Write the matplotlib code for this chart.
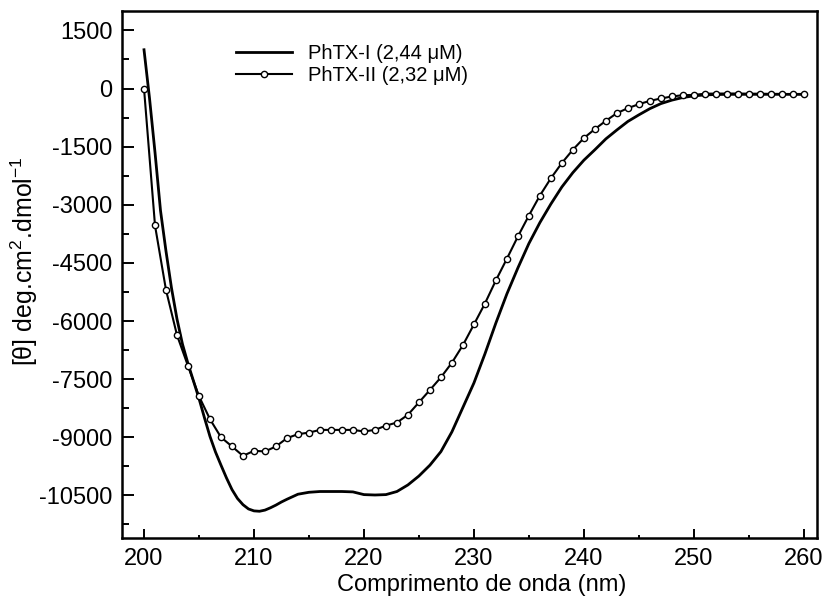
import matplotlib
matplotlib.use("Agg")
import matplotlib.pyplot as plt
from matplotlib.ticker import MultipleLocator

plt.rcParams['font.family'] = ['Liberation Sans', 'DejaVu Sans']
plt.rcParams['mathtext.default'] = 'regular'
plt.rcParams['axes.unicode_minus'] = False

# PhTX-I (2,44 uM) - solid line, finer steps where the curve bends
wl1 = [200, 200.5, 201, 201.5, 202, 202.5, 203, 203.5, 204, 204.5,
       205, 205.5, 206, 206.5, 207, 207.5, 208, 208.5, 209, 209.5,
       210, 210.5, 211, 211.5, 212, 212.5, 213] + list(range(214, 261))
phtx1 = [1000, -250, -1650, -3150, -4200, -5150, -5950, -6600, -7100, -7550,
         -8000, -8500, -8980, -9380, -9720, -10050, -10350, -10580, -10740, -10850,
         -10900, -10910, -10880, -10820, -10750, -10670, -10600,
         -10470, -10420, -10400, -10400, -10400, -10410,
         -10480, -10490, -10480, -10400, -10230, -10000, -9720, -9370, -8860, -8230,
         -7600, -6850, -6050, -5300, -4630, -4000, -3460, -2980, -2540, -2170,
         -1850, -1580, -1300, -1070, -850, -680, -520, -390, -300, -232,
         -190, -165, -155, -150, -150, -150, -150, -150, -150, -150,
         -150]

# PhTX-II (2,32 uM) - line with open markers, every 1 nm
wl2 = list(range(200, 261))
phtx2 = [0, -3535, -5200, -6365, -7160, -7940, -8535, -9000, -9237, -9480,
         -9350, -9366, -9237, -9023, -8920, -8880, -8810, -8810, -8810, -8810,
         -8850, -8810, -8700, -8620, -8420, -8100, -7780, -7454, -7076, -6623,
         -6090, -5550, -4950, -4392, -3818, -3278, -2763, -2316, -1922, -1580,
         -1279, -1047, -834, -636, -507, -404, -319, -257, -206, -172,
         -165, -135, -130, -130, -130, -135, -135, -140, -140, -145,
         -147]

labels = ['PhTX-I (2,44 \u03bcM)', 'PhTX-II (2,32 \u03bcM)']

fig = plt.figure(figsize=(8.25, 6.02), dpi=100)
ax = fig.add_axes([0.1479, 0.1063, 0.8424, 0.8754])

ax.plot(wl1, phtx1, color='black', lw=2.0, solid_joinstyle='round', label=labels[0])
ax.plot(wl2, phtx2, color='black', lw=1.5, marker='o', markersize=4.5,
        markerfacecolor='white', markeredgecolor='black', markeredgewidth=1.0,
        label=labels[1])

ax.set_xlim(198, 261.2)
ax.set_ylim(-11600, 2000)
ax.xaxis.set_major_locator(MultipleLocator(10))
ax.xaxis.set_minor_locator(MultipleLocator(5))
ax.yaxis.set_major_locator(MultipleLocator(1500))
ax.yaxis.set_minor_locator(MultipleLocator(750))

for s in ax.spines.values():
    s.set_linewidth(1.8)

ax.tick_params(axis='both', which='both', direction='in', top=False, right=False,
               width=1.4, labelsize=17)
ax.tick_params(axis='y', which='major', length=8.6, pad=7)
ax.tick_params(axis='y', which='minor', length=5)
ax.tick_params(axis='x', which='major', length=6.5, pad=7)
ax.tick_params(axis='x', which='minor', length=2.5)

ax.set_xlabel('Comprimento de onda (nm)', fontsize=17)
ax.xaxis.set_label_coords(0.517, -0.068)
ax.set_ylabel('[\u03b8] deg.cm$^{2}$.dmol$^{-1}$', fontsize=18)
ax.yaxis.set_label_coords(-0.118, 0.525)

ax.legend(loc='upper left', bbox_to_anchor=(0.138, 0.971), frameon=False,
          fontsize=14.5, handlelength=2.8, handletextpad=0.75, labelspacing=0.12,
          numpoints=1)

fig.savefig('out.png', dpi=100)
